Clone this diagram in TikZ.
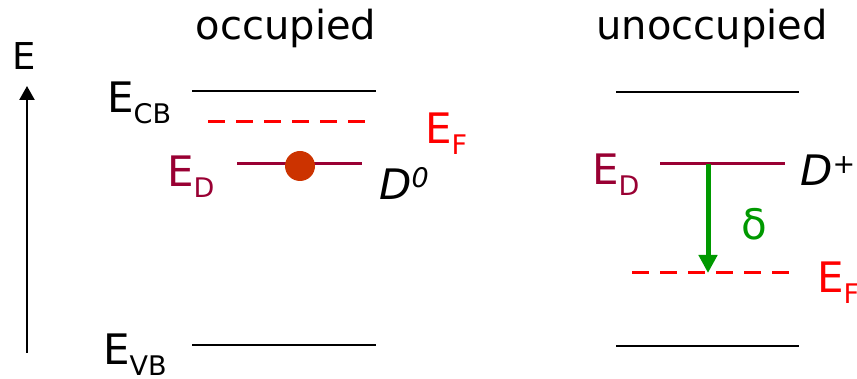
\documentclass[tikz,border=0pt]{standalone}
\usepackage{fontspec}
\setmainfont{DejaVu Sans}
\usetikzlibrary{arrows.meta}
\definecolor{edred}{HTML}{990033}
\definecolor{efred}{HTML}{FF0000}
\definecolor{dotred}{HTML}{CC3300}
\definecolor{dgreen}{HTML}{009900}
\newcommand{\lvlsub}[2]{#1\raisebox{-10.5pt}{\fontsize{27}{27}\selectfont #2}}
\tikzset{
  lbl/.style={font=\fontsize{42}{42}\selectfont, inner sep=0pt, anchor=base west},
  title/.style={font=\fontsize{40}{40}\selectfont, inner sep=0pt, anchor=base},
  band/.style={line width=2.8pt, black},
  fermi/.style={line width=3pt, efred, dash pattern=on 17pt off 11pt},
  donor/.style={line width=3pt, edred},
}
\begin{document}
\begin{tikzpicture}[x=1pt,y=-1pt]
\useasboundingbox (0,0) rectangle (857,379);
% axis
\coordinate (ax0) at (27,353);
\coordinate (ax1) at (27,86);
\draw[line width=2.4pt, -{Triangle[length=14pt,width=15pt]}] (ax0) -- (ax1);
\node[font=\fontsize{37}{37}\selectfont, inner sep=0pt, anchor=base] (Eaxis) at (24,70) {E};
% titles
\node[title] (occ) at (286,40) {occupied};
\node[title] (unocc) at (712,40) {unoccupied};
% left panel
\coordinate (lcb0) at (192,91); \coordinate (lcb1) at (376,91);
\coordinate (lvb0) at (192,345); \coordinate (lvb1) at (376,345);
\coordinate (lef0) at (208,122); \coordinate (lef1) at (366,122);
\coordinate (led0) at (237,164); \coordinate (led1) at (362,164);
\draw[band] (lcb0) -- (lcb1);
\draw[band] (lvb0) -- (lvb1);
\draw[fermi] (lef0) -- (lef1);
\draw[donor] (led0) -- (led1);
\fill[dotred] (300,166) circle (15pt);
\node[lbl] (lECB) at (107,113) {\lvlsub{E}{CB}};
\node[lbl] (lEVB) at (103,365) {\lvlsub{E}{VB}};
\node[lbl, text=edred] (lED) at (167,187) {\lvlsub{E}{D}};
\node[lbl, text=efred] (lEF) at (425,144) {\lvlsub{E}{F}};
\node[lbl] (D0) at (379,200) {\itshape D\raisebox{12pt}{\fontsize{27}{27}\selectfont 0}};
% right panel
\coordinate (rcb0) at (616,92); \coordinate (rcb1) at (799,92);
\coordinate (rvb0) at (616,346); \coordinate (rvb1) at (799,346);
\coordinate (ref0) at (632,273); \coordinate (ref1) at (789,273);
\coordinate (red0) at (660,164); \coordinate (red1) at (785,164);
\draw[band] (rcb0) -- (rcb1);
\draw[band] (rvb0) -- (rvb1);
\draw[fermi] (ref0) -- (ref1);
\draw[donor] (red0) -- (red1);
\node[lbl, text=edred] (rED) at (592,185) {\lvlsub{E}{D}};
\node[lbl] (Dp) at (800,186) {\itshape D\raisebox{12pt}{\fontsize{27}{27}\selectfont +}};
\node[lbl, text=efred] (rEF) at (817,293) {\lvlsub{E}{F}};
\coordinate (gA) at (708,164);
\coordinate (gB) at (708,273);
\draw[dgreen, line width=5pt, -{Triangle[length=18pt,width=18pt]}] (gA) -- (gB);
\node[font=\fontsize{42}{42}\selectfont, inner sep=0pt, text=dgreen] (delta) at (754,224) {δ};
\end{tikzpicture}
\end{document}
